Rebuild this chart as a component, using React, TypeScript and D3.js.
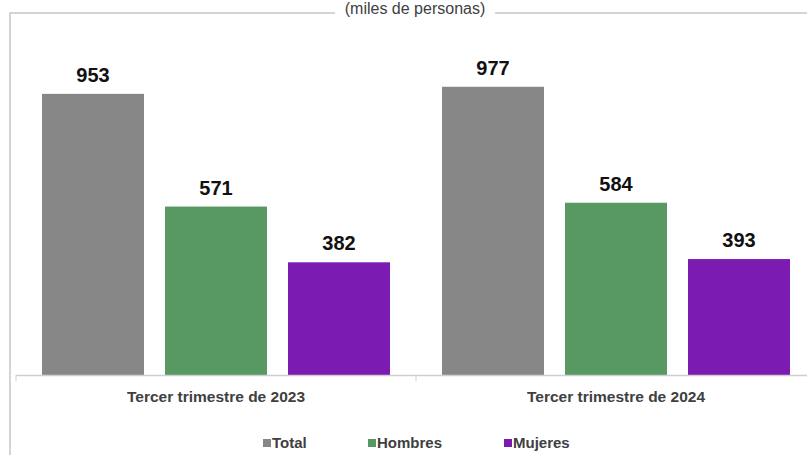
import React from "react";
import * as d3 from "d3";

const categories = ["Tercer trimestre de 2023", "Tercer trimestre de 2024"];
const seriesNames = ["Total", "Hombres", "Mujeres"];
const totalValues = [953, 977];
const hombresValues = [571, 584];
const mujeresValues = [382, 393];
const seriesColors = ["#878787", "#589863", "#7b1bb1"];

const W = 807;
const H = 455;
const FONT = "'Liberation Sans', Arial, sans-serif";

export default function App() {
  const series = [totalValues, hombresValues, mujeresValues];
  const x0 = d3.scaleBand<string>().domain(categories).range([16, 816]).paddingInner(0).paddingOuter(0);
  const x1 = d3
    .scaleBand<string>()
    .domain(seriesNames)
    .range([26, 400 - 26])
    .paddingInner(21 / 123)
    .paddingOuter(0);
  const y = d3.scaleLinear().domain([0, 1200]).range([375, 21]);

  const legendX = [263, 368, 504];

  return (
    <div style={{ position: "absolute", left: 0, top: 0 }}>
      <svg width={W} height={H} style={{ display: "block", background: "#fff" }}>
        <rect x={10} y={13} width={W + 20} height={H + 20} fill="none" stroke="#c6c6c6" strokeWidth={1.5} />
        <rect x={335} y={0} width={160} height={18} fill="#fff" />
        <text x={415} y={14} textAnchor="middle" fontFamily={FONT} fontSize={16} fill="#404040">
          (miles de personas)
        </text>
        {categories.map((c, ci) => (
          <g key={c} transform={`translate(${x0(c)},0)`}>
            {seriesNames.map((s, si) => {
              const v = series[si][ci];
              const bx = x1(s)!;
              const bw = x1.bandwidth();
              return (
                <g key={s}>
                  <rect x={bx} y={y(v)} width={bw} height={y(0) - y(v)} fill={seriesColors[si]} />
                  <text
                    x={bx + bw / 2}
                    y={y(v) - 12}
                    textAnchor="middle"
                    fontFamily={FONT}
                    fontWeight="bold"
                    fontSize={20}
                    fill="#111"
                  >
                    {v}
                  </text>
                </g>
              );
            })}
            <text
              x={x0.bandwidth() / 2}
              y={402}
              textAnchor="middle"
              fontFamily={FONT}
              fontWeight="bold"
              fontSize={15.5}
              fill="#404040"
            >
              {c}
            </text>
          </g>
        ))}
        <line x1={16} x2={W} y1={375.5} y2={375.5} stroke="#cfcfcf" strokeWidth={1.5} />
        {[16, 416].map((t) => (
          <line key={t} x1={t} x2={t} y1={375} y2={381} stroke="#cfcfcf" strokeWidth={1} />
        ))}
        {seriesNames.map((s, i) => (
          <g key={s} transform={`translate(${legendX[i]},0)`}>
            <rect x={0} y={439} width={8} height={8} fill={seriesColors[i]} />
            <text x={9} y={448} fontFamily={FONT} fontWeight="bold" fontSize={15} fill="#404040">
              {s}
            </text>
          </g>
        ))}
      </svg>
    </div>
  );
}
